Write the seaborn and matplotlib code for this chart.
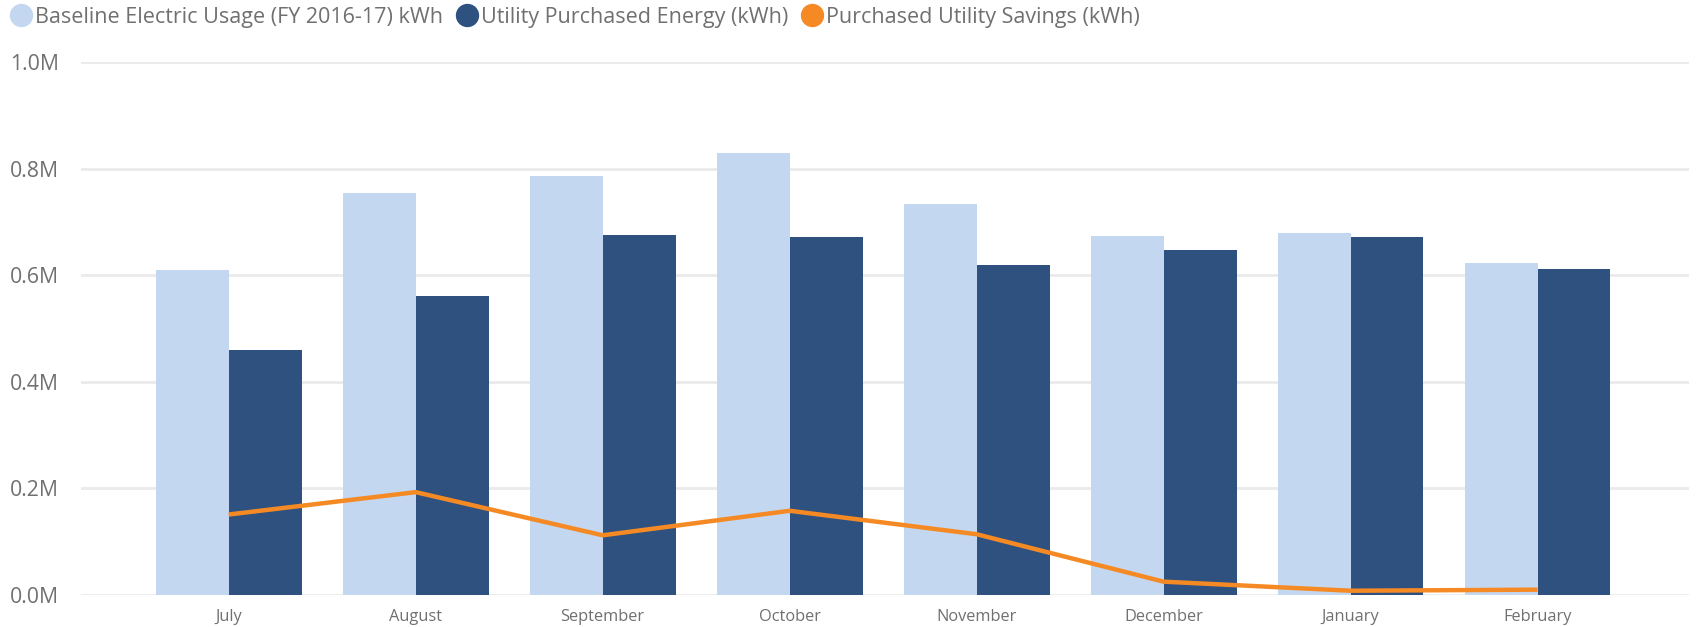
import numpy as np
import pandas as pd
import matplotlib
matplotlib.use("Agg")
import matplotlib.pyplot as plt
from matplotlib.lines import Line2D
from matplotlib.ticker import FuncFormatter
import seaborn as sns

months = ["July", "August", "September", "October", "November", "December", "January", "February"]
baseline = [610000, 754000, 787000, 829000, 734000, 673000, 679000, 622000]
purchased = [459000, 561000, 675000, 671000, 620000, 648000, 671000, 612000]
savings = [151000, 193000, 112000, 158000, 114000, 25000, 8000, 10000]

lbl_base = "Baseline Electric Usage (FY 2016-17) kWh"
lbl_purch = "Utility Purchased Energy (kWh)"
lbl_sav = "Purchased Utility Savings (kWh)"

c_base = "#C4D7F1"
c_purch = "#2E5180"
c_sav = "#F58A25"
txt = "#707070"

sns.set_theme(style="white")
plt.rcParams["font.family"] = ["Open Sans", "DejaVu Sans"]

df = pd.DataFrame({
    "month": months * 2,
    "kwh": baseline + purchased,
    "series": [lbl_base] * len(months) + [lbl_purch] * len(months),
})

fig = plt.figure(figsize=(16.97, 6.27), dpi=100)
ax = fig.add_axes([81 / 1697, 32 / 627, (1689 - 81) / 1697, (595 - 62) / 627])

sns.barplot(data=df, x="month", y="kwh", hue="series", order=months,
            hue_order=[lbl_base, lbl_purch], palette=[c_base, c_purch],
            width=0.78, gap=0, saturation=1, errorbar=None, legend=False, ax=ax,
            linewidth=0)
sns.lineplot(x=np.arange(len(months)), y=savings, color=c_sav, linewidth=3.2, ax=ax,
             solid_capstyle="butt")

ax.set_xlim(-0.79, 7.81)
ax.set_ylim(0, 1000000)
ax.set_yticks(np.arange(0, 1000001, 200000))
ax.yaxis.set_major_formatter(FuncFormatter(lambda v, p: "%.1fM" % (v / 1e6)))
ax.grid(axis="y", color="#EAEAEA", linewidth=2)
ax.set_axisbelow(True)
for s in ax.spines.values():
    s.set_visible(False)
ax.set_xlabel("")
ax.set_ylabel("")
ax.tick_params(axis="y", length=0, pad=16, labelsize=15.3, labelcolor=txt)
ax.tick_params(axis="x", length=0, pad=10, labelsize=11.8, labelcolor=txt)

# legend row across the top
handles = [Line2D([], [], marker="o", linestyle="", markersize=15.8, color=c) for c in [c_base, c_purch, c_sav]]
leg = fig.legend(handles, [lbl_base, lbl_purch, lbl_sav], loc="center left", bbox_to_anchor=(8 / 1697, 1 - 17 / 627),
                 ncol=3, frameon=False, fontsize=15.5, handletextpad=0.05, columnspacing=0.5,
                 handlelength=1.2, borderaxespad=0, borderpad=0)
for t in leg.get_texts():
    t.set_color(txt)

fig.savefig("out.png", dpi=100)
